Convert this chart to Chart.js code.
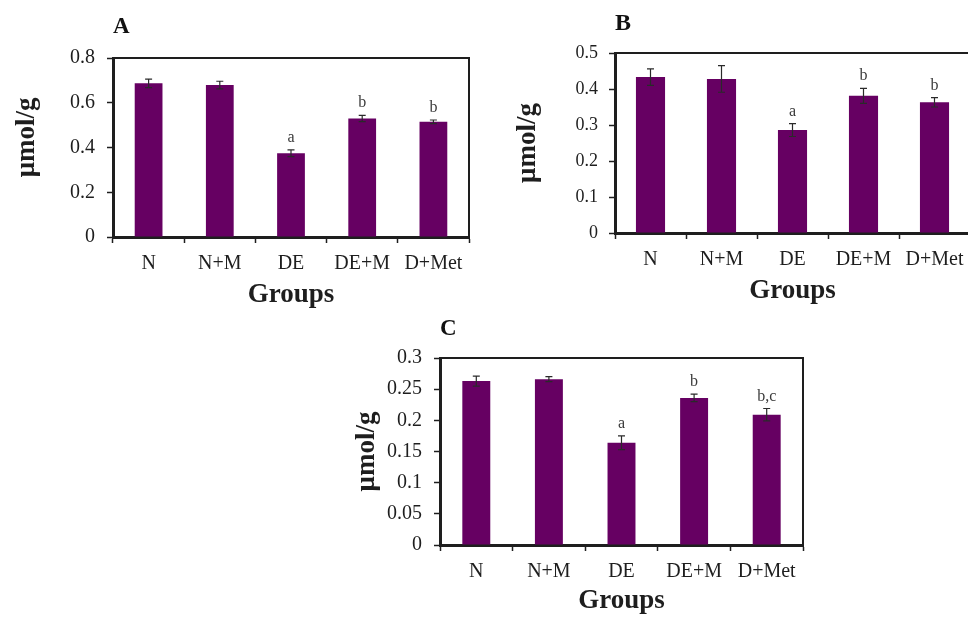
<!DOCTYPE html>
<html><head><meta charset="utf-8">
<script src="https://cdn.jsdelivr.net/npm/chart.js@4/dist/chart.umd.min.js"></script>
<style>
html,body{margin:0;padding:0;background:#fff;}
body{width:968px;height:617px;position:relative;overflow:hidden;}
.box{position:absolute;}
canvas{display:block;}
</style></head><body>
<div class="box" style="left:0;top:0;"><canvas id="cA" width="480" height="310"></canvas></div>
<div class="box" style="left:480px;top:0;"><canvas id="cB" width="490" height="310"></canvas></div>
<div class="box" style="left:340px;top:300px;"><canvas id="cC" width="470" height="317"></canvas></div>
<script>
const groups = ['N', 'N+M', 'DE', 'DE+M', 'D+Met'];

const valuesA = [0.687, 0.679, 0.374, 0.530, 0.515];
const errorsA = [0.019, 0.017, 0.015, 0.014, 0.008];
const lettersA = ['', '', 'a', 'b', 'b'];
const yTicksA = ['0', '0.2', '0.4', '0.6', '0.8'];

const valuesB = [0.433, 0.428, 0.286, 0.381, 0.363];
const errorsB = [0.023, 0.037, 0.018, 0.021, 0.013];
const lettersB = ['', '', 'a', 'b', 'b'];
const yTicksB = ['0', '0.1', '0.2', '0.3', '0.4', '0.5'];

const valuesC = [0.263, 0.266, 0.164, 0.236, 0.209];
const errorsC = [0.008, 0.004, 0.011, 0.006, 0.010];
const lettersC = ['', '', 'a', 'b', 'b,c'];
const yTicksC = ['0', '0.05', '0.1', '0.15', '0.2', '0.25', '0.3'];

const SERIF = "'Liberation Serif', 'Times New Roman', serif";
const INK = '#1e1e1e';
const BAR = '#660062';

const errorPlugin = {
  id: 'errorLetters',
  afterDatasetsDraw(chart) {
    const ctx = chart.ctx;
    const ds = chart.data.datasets[0];
    const meta = chart.getDatasetMeta(0);
    const y = chart.scales.y;
    ctx.save();
    meta.data.forEach((bar, i) => {
      const v = ds.data[i], e = ds.errors[i];
      const yt = y.getPixelForValue(v + e);
      const yb = y.getPixelForValue(v - e);
      const x = bar.x;
      ctx.strokeStyle = '#2a2a2a';
      ctx.lineWidth = 1.2;
      ctx.beginPath();
      ctx.moveTo(x, yt); ctx.lineTo(x, yb);
      ctx.moveTo(x - 3.5, yt); ctx.lineTo(x + 3.5, yt);
      ctx.moveTo(x - 3.5, yb); ctx.lineTo(x + 3.5, yb);
      ctx.stroke();
      const L = ds.letters[i];
      if (L) {
        ctx.fillStyle = '#3a3a3a';
        ctx.font = '16px ' + SERIF;
        ctx.textAlign = 'center';
        ctx.textBaseline = 'bottom';
        ctx.fillText(L, x, yt - 4);
      }
    });
    ctx.restore();
  }
};

const framePlugin = {
  id: 'frame',
  afterDraw(chart) {
    const a = chart.chartArea, ctx = chart.ctx;
    ctx.save();
    ctx.strokeStyle = INK;
    ctx.lineWidth = 2;
    ctx.beginPath();
    ctx.moveTo(a.left, a.top);
    ctx.lineTo(a.right, a.top);
    ctx.lineTo(a.right, a.bottom);
    ctx.stroke();
    ctx.restore();
  }
};

function makeChart(id, cfg) {
  return new Chart(document.getElementById(id), {
    type: 'bar',
    data: {
      labels: groups,
      datasets: [{
        data: cfg.values,
        errors: cfg.errors,
        letters: cfg.letters,
        backgroundColor: BAR,
        borderWidth: 0,
        categoryPercentage: 1,
        barPercentage: cfg.barPct
      }]
    },
    options: {
      responsive: false,
      animation: false,
      layout: { padding: { left: 0, right: cfg.padRight, top: 0, bottom: 0 } },
      plugins: {
        legend: { display: false },
        tooltip: { enabled: false },
        title: {
          display: true, text: cfg.title, align: 'start', fullSize: false,
          color: '#111',
          font: { family: SERIF, size: cfg.titleSize, weight: 'bold', lineHeight: 1 },
          padding: { top: cfg.titleTop, bottom: cfg.titleBottom }
        }
      },
      scales: {
        x: {
          offset: true,
          afterFit: s => { s.height = cfg.xHeight; s.paddingLeft = 0; s.paddingRight = 0; },
          grid: { offset: true, drawOnChartArea: false, drawTicks: true, tickLength: 6, tickColor: INK, tickWidth: 1.5 },
          border: { display: true, color: INK, width: 3 },
          ticks: { color: INK, padding: 9, font: { family: SERIF, size: 20 } },
          title: {
            display: true, text: 'Groups', color: INK,
            font: { family: SERIF, size: 27, weight: 'bold', lineHeight: 1.2 },
            padding: { top: 0, bottom: cfg.xTitlePad }
          }
        },
        y: {
          min: 0, max: cfg.max,
          afterFit: s => { s.width = cfg.yWidth; },
          afterBuildTicks: s => { s.ticks = cfg.yTicks.map(t => ({ value: parseFloat(t) })); },
          grid: { drawOnChartArea: false, drawTicks: true, tickLength: 6, tickColor: INK, tickWidth: 1.5 },
          border: { display: true, color: INK, width: 3 },
          ticks: {
            color: INK, padding: cfg.yTickPad,
            font: { family: SERIF, size: cfg.yTickSize },
            callback: (v, i) => cfg.yTicks[i]
          },
          title: {
            display: true, text: cfg.yTitle, color: INK,
            font: { family: SERIF, size: 27, weight: 'bold', lineHeight: 1.2 },
            padding: { top: cfg.yTitlePad, bottom: 0 }
          }
        }
      }
    },
    plugins: [errorPlugin, framePlugin]
  });
}

makeChart('cA', {
  values: valuesA, errors: errorsA, letters: lettersA, yTicks: yTicksA, max: 0.8,
  title: 'A', titleSize: 23, titleTop: 16, titleBottom: 19,
  padRight: 11, yWidth: 113, xHeight: 73, xTitlePad: -1, yTitlePad: 11,
  yTickPad: 12, yTickSize: 20, barPct: 0.39, yTitle: '   μmol/g'
});
makeChart('cB', {
  values: valuesB, errors: errorsB, letters: lettersB, yTicks: yTicksB, max: 0.5,
  title: 'B', titleSize: 24, titleTop: 11.5, titleBottom: 17.5,
  padRight: 0, yWidth: 135, xHeight: 77, xTitlePad: 3, yTitlePad: 32,
  yTickPad: 11, yTickSize: 18, barPct: 0.41, yTitle: 'μmol/g'
});
makeChart('cC', {
  values: valuesC, errors: errorsC, letters: lettersC, yTicks: yTicksC, max: 0.3,
  title: 'C', titleSize: 23, titleTop: 17.5, titleBottom: 17.5,
  padRight: 7, yWidth: 100, xHeight: 72, xTitlePad: 0, yTitlePad: 11,
  yTickPad: 12, yTickSize: 20, barPct: 0.385, yTitle: 'μmol/g'
});
</script>
</body></html>
